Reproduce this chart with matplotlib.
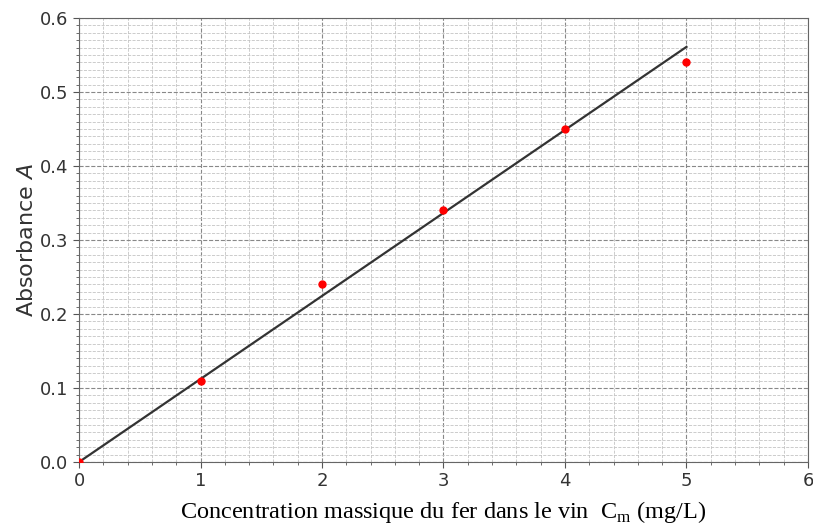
import matplotlib
matplotlib.use("Agg")
import matplotlib.pyplot as plt
from matplotlib.ticker import MultipleLocator, FormatStrFormatter

plt.rcParams['mathtext.fontset'] = 'custom'
plt.rcParams['mathtext.rm'] = 'Liberation Serif'
plt.rcParams['mathtext.it'] = 'DejaVu Sans:italic'

# mesures
conc = [0, 1, 2, 3, 4, 5]
absorb = [0.0, 0.11, 0.24, 0.34, 0.45, 0.54]

# droite de modelisation
fit_x = [0, 5]
fit_y = [0.0, 0.561]

fig = plt.figure(figsize=(8.13, 5.27), dpi=100)
ax = fig.add_axes([0.0972, 0.1233, 0.8966, 0.8425])

ax.plot(fit_x, fit_y, color='#333333', lw=1.6, zorder=3)
ax.plot(conc, absorb, 'o', color='red', ms=5, zorder=4)

ax.set_xlim(0, 6)
ax.set_ylim(0, 0.6)
ax.xaxis.set_major_locator(MultipleLocator(1))
ax.xaxis.set_minor_locator(MultipleLocator(0.2))
ax.yaxis.set_major_locator(MultipleLocator(0.1))
ax.yaxis.set_minor_locator(MultipleLocator(0.01))
ax.yaxis.set_major_formatter(FormatStrFormatter('%.1f'))

ax.grid(which='major', color='#888888', ls='--', lw=0.8)
ax.grid(which='minor', color='#c4c4c4', ls='--', lw=0.6)
ax.set_axisbelow(True)

ax.tick_params(which='major', labelsize=13, labelcolor='#333333', length=4, color='#555555')
ax.tick_params(which='minor', length=2, color='#555555')
for s in ax.spines.values():
    s.set_color('#666666')

ax.set_ylabel('Absorbance $A$', fontsize=16, color='#333333', labelpad=2)
ax.set_xlabel('Concentration massique du fer dans le vin  C$_{\\mathrm{m}}$ (mg/L)',
              fontsize=17.5, family='Liberation Serif', labelpad=6)

fig.savefig('out.png', dpi=100)
